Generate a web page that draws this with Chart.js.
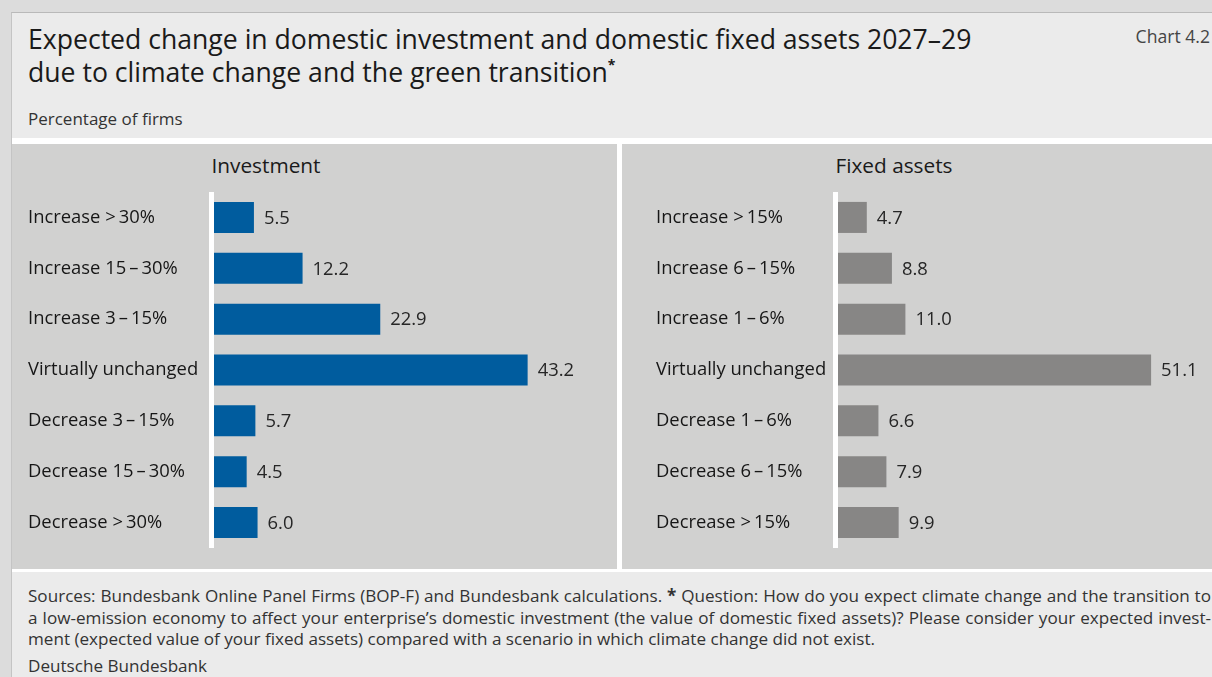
<!DOCTYPE html>
<html>
<head>
<meta charset="utf-8">
<script src="https://cdn.jsdelivr.net/npm/chart.js@4.4.1/dist/chart.umd.min.js"></script>
<style>
  html, body { margin: 0; padding: 0; }
  body { width: 1212px; height: 677px; overflow: hidden; background: #dcdcdc; font-family: "Open Sans", "Noto Sans", sans-serif; position: relative; }
  .card { position: absolute; left: 11px; top: 12px; width: 1201px; height: 665px; background: #ebebeb; border-top: 1px solid #b9b9b9; border-left: 1px solid #c4c4c4; box-sizing: border-box; }
  .abs { position: absolute; white-space: nowrap; }
  .title { left: 28px; font-size: 26.6px; color: #1a1a1a; line-height: 33px; }
  .chartno { right: 2px; top: 24px; font-size: 17.6px; color: #444; }
  .unit { left: 28px; top: 107px; font-size: 17px; color: #333; }
  .strip { position: absolute; background: #ffffff; }
  .panel { position: absolute; top: 144px; height: 425px; background: #d1d1d0; }
  .ptitle { top: 151px; font-size: 20.8px; color: #1a1a1a; transform: translateX(-50%); }
  .foot { left: 28px; width: 1183px; font-size: 17.1px; color: #333; line-height: 21.5px; }
  .just { text-align: justify; text-align-last: justify; }
  canvas { position: absolute; }
</style>
</head>
<body>
<div class="card"></div>
<div class="abs title" style="top:23px">Expected change in domestic investment and domestic fixed assets 2027–29</div>
<div class="abs title" style="top:56px">due to climate change and the green transition<sup style="font-size:14px;font-weight:bold;position:relative;top:-12px;vertical-align:baseline">*</sup></div>
<div class="abs chartno">Chart 4.2</div>
<div class="abs unit">Percentage of firms</div>

<div class="strip" style="left:12px;top:138px;width:1200px;height:6px"></div>
<div class="panel" style="left:12px;width:605px"></div>
<div class="strip" style="left:617px;top:144px;width:5px;height:425px"></div>
<div class="panel" style="left:622px;width:590px"></div>
<div class="strip" style="left:12px;top:569px;width:1200px;height:3px"></div>

<div class="abs ptitle" style="left:266px">Investment</div>
<div class="abs ptitle" style="left:894px">Fixed assets</div>

<canvas id="inv" width="605" height="425" style="left:12px;top:144px;width:605px;height:425px"></canvas>
<canvas id="fix" width="590" height="425" style="left:622px;top:144px;width:590px;height:425px"></canvas>

<div class="abs foot just" style="top:585px">Sources: Bundesbank Online Panel Firms (BOP-F) and Bundesbank calculations. <b>*</b> Question: How do you expect climate change and the transition to</div>
<div class="abs foot just" style="top:607px">a low-emission economy to affect your enterprise’s domestic investment (the value of domestic fixed assets)? Please consider your expected invest-</div>
<div class="abs foot" style="top:628px">ment (expected value of your fixed assets) compared with a scenario in which climate change did not exist.</div>
<div class="abs foot" style="top:655px">Deutsche Bundesbank</div>

<script>
// Survey categories (expected change, percent of firms)
const investmentCategories = [
  'Increase >\u200930%',
  'Increase 15\u2009\u2013\u200930%',
  'Increase 3\u2009\u2013\u200915%',
  'Virtually unchanged',
  'Decrease 3\u2009\u2013\u200915%',
  'Decrease 15\u2009\u2013\u200930%',
  'Decrease >\u200930%'
];
const investmentValues = [5.5, 12.2, 22.9, 43.2, 5.7, 4.5, 6.0];

const fixedAssetCategories = [
  'Increase >\u200915%',
  'Increase 6\u2009\u2013\u200915%',
  'Increase 1\u2009\u2013\u20096%',
  'Virtually unchanged',
  'Decrease 1\u2009\u2013\u20096%',
  'Decrease 6\u2009\u2013\u200915%',
  'Decrease >\u200915%'
];
const fixedAssetValues = [4.7, 8.8, 11.0, 51.1, 6.6, 7.9, 9.9];

const FONT = '"Open Sans", "Noto Sans", sans-serif';
const LABEL_SIZE = 18.4;

// White baseline at the left edge of the bars
const baselinePlugin = {
  id: 'baseline',
  beforeDatasetsDraw(chart) {
    const { ctx, chartArea } = chart;
    ctx.save();
    ctx.fillStyle = '#ffffff';
    ctx.fillRect(chartArea.left - 5, chartArea.top, 5, chartArea.bottom - chartArea.top);
    ctx.restore();
  }
};

// Value printed to the right of each bar
const valueLabelPlugin = {
  id: 'valueLabels',
  afterDatasetsDraw(chart) {
    const { ctx } = chart;
    const meta = chart.getDatasetMeta(0);
    const data = chart.data.datasets[0].data;
    ctx.save();
    ctx.font = LABEL_SIZE + 'px ' + FONT;
    ctx.fillStyle = '#262626';
    ctx.textAlign = 'left';
    ctx.textBaseline = 'middle';
    meta.data.forEach((bar, i) => {
      ctx.fillText(data[i].toFixed(1), bar.x + 10, bar.y + 1);
    });
    ctx.restore();
  }
};

function makeChart(id, labels, values, color, xMax, pad, axisWidth) {
  return new Chart(document.getElementById(id), {
    type: 'bar',
    data: {
      labels: labels,
      datasets: [{
        data: values,
        backgroundColor: color,
        borderWidth: 0,
        categoryPercentage: 1,
        barPercentage: 0.61
      }]
    },
    options: {
      indexAxis: 'y',
      responsive: false,
      animation: false,
      devicePixelRatio: 1,
      layout: { padding: pad },
      plugins: { legend: { display: false }, tooltip: { enabled: false } },
      scales: {
        x: { display: false, min: 0, max: xMax },
        y: {
          grid: { display: false },
          border: { display: false },
          ticks: {
            crossAlign: 'far',
            color: '#161616',
            font: { family: FONT, size: LABEL_SIZE },
            padding: 0
          },
          afterFit(scale) { scale.width = axisWidth; }
        }
      }
    },
    plugins: [baselinePlugin, valueLabelPlugin]
  });
}

makeChart('inv', investmentCategories, investmentValues, '#005c9e', 50,
  { left: 16, right: 40, top: 48, bottom: 21 }, 186);
makeChart('fix', fixedAssetCategories, fixedAssetValues, '#878685', 55,
  { left: 34, right: 37, top: 48, bottom: 21 }, 182);
</script>
</body>
</html>
